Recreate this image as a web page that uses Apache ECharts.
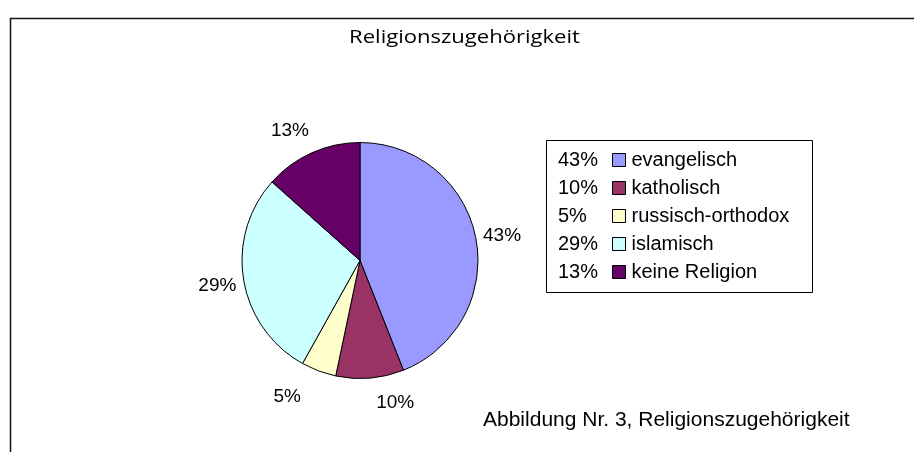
<!DOCTYPE html>
<html>
<head>
<meta charset="utf-8">
<script src="https://cdn.jsdelivr.net/npm/echarts@6/dist/echarts.min.js"></script>
<style>
  html, body { margin: 0; padding: 0; background: #fff; }
  #main { width: 914px; height: 452px; }
</style>
</head>
<body>
<div id="main"></div>
<script>
// Religionszugehörigkeit - Kreisdiagramm
var names = ['evangelisch', 'katholisch', 'russisch-orthodox', 'islamisch', 'keine Religion'];
var values = [44.0, 9.3, 4.8, 28.5, 13.4];      // Winkel aus dem Bild
var pctLabels = [43, 10, 5, 29, 13];             // Beschriftung wie im Bild
var colors = ['#9999FF', '#993366', '#FFFFCC', '#CCFFFF', '#660066'];

var pieCenter = [360, 260.5];
var pieRadius = 118;
// kleine Verschiebungen der Beschriftungen (wie Excel sie setzt)
var labelNudge = [[0, 1], [23, 8], [-24, 10], [0, 3], [-11, -6]];

var pieData = [];
for (var i = 0; i < names.length; i++) {
    pieData.push({ name: names[i], value: values[i], itemStyle: { color: colors[i] } });
}

var total = 0;
for (var i = 0; i < values.length; i++) total += values[i];

function pctOf(name) {
    return pctLabels[names.indexOf(name)] + '%';
}

// Beschriftung außen entlang der Mittelwinkel
function placeLabel(p) {
    var i = p.dataIndex;
    var before = 0;
    for (var k = 0; k < i; k++) before += values[k];
    var mid = (before + values[i] / 2) / total * Math.PI * 2;
    var dx = Math.sin(mid), dy = -Math.cos(mid);
    var r = pieRadius + 7.6;
    var w = p.labelRect.width, h = p.labelRect.height;
    return {
        x: pieCenter[0] + dx * r + dx * w / 2 + labelNudge[i][0],
        y: pieCenter[1] + dy * r + dy * h / 2 + labelNudge[i][1],
        align: 'center',
        verticalAlign: 'middle'
    };
}

var chart = echarts.init(document.getElementById('main'));
chart.setOption({
    animation: false,
    legend: [{
        // Prozentwerte links
        orient: 'vertical',
        left: 548,
        top: 145,
        itemGap: 8,
        itemWidth: 0,
        itemHeight: 18,
        icon: 'none',
        selectedMode: false,
        data: names,
        formatter: function (name) { return pctOf(name); },
        textStyle: { fontFamily: 'Liberation Sans', fontSize: 20, color: '#000', height: 20, lineHeight: 20 }
    }, {
        orient: 'vertical',
        left: 607,
        top: 145,
        itemGap: 8,
        itemWidth: 13,
        itemHeight: 13,
        icon: 'rect',
        selectedMode: false,
        data: names,
        itemStyle: { borderColor: '#000', borderWidth: 1 },
        textStyle: { fontFamily: 'Liberation Sans', fontSize: 20, color: '#000', padding: [0, 0, 0, 1], height: 20, lineHeight: 20 }
    }],
    graphic: [{
        type: 'polyline',
        shape: { points: [[10.5, 452], [10.5, 18.5], [914, 18.5]] },
        style: { stroke: '#111', lineWidth: 1.5, fill: null }
    }, {
        type: 'rect',
        shape: { x: 546.5, y: 140.5, width: 266, height: 152 },
        style: { stroke: '#000', lineWidth: 1, fill: null },
        z: -1
    }, {
        // Titel
        type: 'text',
        x: 464.5,
        y: 38,
        scaleX: 1.16,
        style: { text: 'Religionszugehörigkeit', font: '19px "Open Sans"', fill: '#000', align: 'center', verticalAlign: 'middle' }
    }, {
        type: 'text',
        left: 483,
        top: 410,
        style: { text: 'Abbildung Nr. 3, Religionszugehörigkeit', font: '20px "Liberation Sans"', fill: '#000' },
        scaleX: 1.05
    }],
    series: [{
        type: 'pie',
        center: pieCenter,
        radius: pieRadius,
        startAngle: 90,
        clockwise: true,
        avoidLabelOverlap: false,
        itemStyle: { borderColor: '#000', borderWidth: 1 },
        label: {
            show: true,
            position: 'outside',
            formatter: function (p) { return pctOf(p.name); },
            fontFamily: 'Liberation Sans',
            fontSize: 19,
            color: '#000'
        },
        labelLine: { show: false },
        labelLayout: placeLabel,
        emphasis: { disabled: true },
        data: pieData
    }]
});
</script>
</body>
</html>
